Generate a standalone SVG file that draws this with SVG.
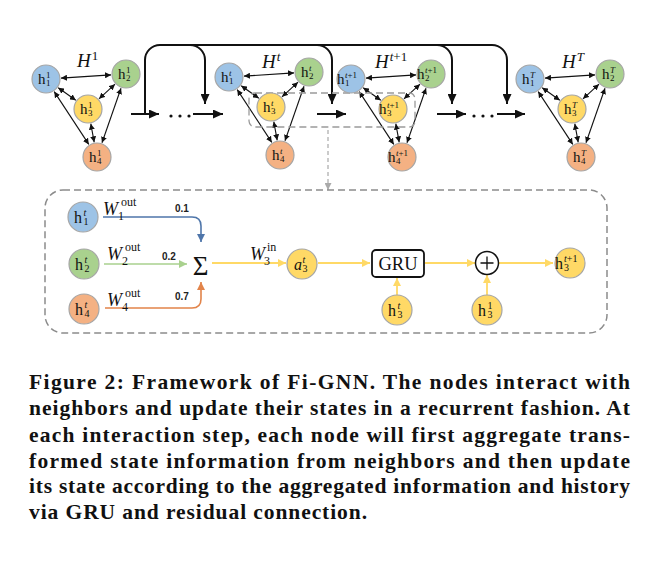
<svg xmlns="http://www.w3.org/2000/svg" width="672" height="572" viewBox="0 0 672 572">
<defs>
<style>
.nb{fill:#9DC3E6;stroke:#A6A6A6;stroke-width:1.2}
.ng{fill:#A9D18E;stroke:#A6A6A6;stroke-width:1.2}
.ny{fill:#FFD966;stroke:#A6A6A6;stroke-width:1.2}
.no{fill:#F4B183;stroke:#A6A6A6;stroke-width:1.2}
.h{font-family:"Liberation Serif","DejaVu Serif",serif;font-size:15px;fill:#111}
.s{font-size:9px}
.hb{font-family:"Liberation Serif","DejaVu Serif",serif;font-size:16px;fill:#111}
.sb{font-size:10px}
.it{font-style:italic}
.e{stroke:#111;stroke-width:1.1;fill:none;marker-start:url(#sa);marker-end:url(#sa)}
.big{stroke:#111;stroke-width:2;fill:none}
.H{font-family:"Liberation Serif","DejaVu Serif",serif;font-size:19px;font-style:italic;fill:#111}
.Hs{font-size:13px}
.w{font-family:"Liberation Serif","DejaVu Serif",serif;font-size:18px;font-style:italic;fill:#111}
.ws{font-size:12px;font-style:normal}
.num{font-family:"Liberation Sans",Arial,sans-serif;font-size:10px;font-weight:bold;fill:#222}
.cap{font-family:"Liberation Serif","Times New Roman",serif;font-size:21.5px;font-weight:bold;fill:#111}
.yl{stroke:#FFD966;stroke-width:1.8;fill:none;marker-end:url(#ya)}
</style>
<marker id="sa" markerUnits="userSpaceOnUse" markerWidth="6" markerHeight="6" refX="6" refY="3" orient="auto-start-reverse"><path d="M0,0 L6,3 L0,6 z" fill="#111"/></marker>
<marker id="ba" markerUnits="userSpaceOnUse" markerWidth="10" markerHeight="9" refX="10" refY="4.5" orient="auto"><path d="M0,0 L10,4.5 L0,9 z" fill="#111"/></marker>
<marker id="bla" markerUnits="userSpaceOnUse" markerWidth="8" markerHeight="8" refX="8" refY="4" orient="auto"><path d="M0,0 L8,4 L0,8 z" fill="#4F76AA"/></marker>
<marker id="ga" markerUnits="userSpaceOnUse" markerWidth="8" markerHeight="8" refX="8" refY="4" orient="auto"><path d="M0,0 L8,4 L0,8 z" fill="#A9D18E"/></marker>
<marker id="oa" markerUnits="userSpaceOnUse" markerWidth="8" markerHeight="8" refX="8" refY="4" orient="auto"><path d="M0,0 L8,4 L0,8 z" fill="#E2844A"/></marker>
<marker id="ya" markerUnits="userSpaceOnUse" markerWidth="8" markerHeight="8" refX="8" refY="4" orient="auto"><path d="M0,0 L8,4 L0,8 z" fill="#FFD966"/></marker>
<marker id="gya" markerUnits="userSpaceOnUse" markerWidth="7" markerHeight="7" refX="7" refY="3.5" orient="auto"><path d="M0,0 L7,3.5 L0,7 z" fill="#AAAAAA"/></marker>
</defs>
<rect width="672" height="572" fill="#fff"/>

<g id="connectors">
  <path class="big" d="M145,114 V60 A15,15 0 0 1 160,45 H492 A15,15 0 0 1 507,60 V104" marker-end="url(#ba)"/>
  <path class="big" d="M190,45 A15,15 0 0 1 205,60 V104" marker-end="url(#ba)"/>
  <path class="big" d="M317,45 A15,15 0 0 1 332,60 V104" marker-end="url(#ba)"/>
  <path class="big" d="M437,45 A15,15 0 0 1 452,60 V104" marker-end="url(#ba)"/>
  <path class="big" d="M131,114 H159" marker-end="url(#ba)"/>
  <path class="big" d="M193,114 H223" marker-end="url(#ba)"/>
  <path class="big" d="M317,114 H346" marker-end="url(#ba)"/>
  <path class="big" d="M437,114 H466" marker-end="url(#ba)"/>
  <path class="big" d="M497,114 H525" marker-end="url(#ba)"/>
  <g fill="#111">
    <circle cx="171" cy="116" r="1.6"/><circle cx="180" cy="116" r="1.6"/><circle cx="189" cy="116" r="1.6"/>
    <circle cx="474" cy="116" r="1.6"/><circle cx="483" cy="116" r="1.6"/><circle cx="492" cy="116" r="1.6"/>
  </g>
  <g transform="translate(46,79)">
    <path class="e" d="M15,-0.9 L65,-4.1"/><path class="e" d="M12.2,8.7 L29.8,21.3"/><path class="e" d="M69,5.2 L53,19.8"/>
    <path class="e" d="M8.2,12.6 L42.8,65.4"/><path class="e" d="M75,9.2 L56,63.8"/><path class="e" d="M44.8,44.7 L48.2,63.3"/>
  </g>
  <g transform="translate(229,77)">
    <path class="e" d="M15,-0.9 L65,-4.1"/><path class="e" d="M12.2,8.7 L29.8,21.3"/><path class="e" d="M69,5.2 L53,19.8"/>
    <path class="e" d="M8.2,12.6 L42.8,65.4"/><path class="e" d="M75,9.2 L56,63.8"/><path class="e" d="M44.8,44.7 L48.2,63.3"/>
  </g>
  <g transform="translate(351,79)">
    <path class="e" d="M15,-0.9 L65,-4.1"/><path class="e" d="M12.2,8.7 L29.8,21.3"/><path class="e" d="M69,5.2 L53,19.8"/>
    <path class="e" d="M8.2,12.6 L42.8,65.4"/><path class="e" d="M75,9.2 L56,63.8"/><path class="e" d="M44.8,44.7 L48.2,63.3"/>
  </g>
  <g transform="translate(530,79)">
    <path class="e" d="M15,-0.9 L65,-4.1"/><path class="e" d="M12.2,8.7 L29.8,21.3"/><path class="e" d="M69,5.2 L53,19.8"/>
    <path class="e" d="M8.2,12.6 L42.8,65.4"/><path class="e" d="M75,9.2 L56,63.8"/><path class="e" d="M44.8,44.7 L48.2,63.3"/>
  </g>
  <rect x="249" y="93" width="166" height="34" rx="6" fill="none" stroke="#9A9A9A" stroke-width="1.3" stroke-dasharray="7 4"/>
  <path d="M328,130 V190" stroke="#B0B0B0" stroke-width="1.3" stroke-dasharray="4 3" fill="none" marker-end="url(#gya)"/>
  <rect x="45" y="190" width="562" height="143" rx="18" fill="none" stroke="#8C8C8C" stroke-width="1.5" stroke-dasharray="7 4"/>
  <path d="M103,217 H192 Q201,217 201,226 V242" stroke="#4F76AA" stroke-width="1.6" fill="none" marker-end="url(#bla)"/>
  <path d="M104,264 H187" stroke="#A9D18E" stroke-width="1.6" fill="none" marker-end="url(#ga)"/>
  <path d="M105,308 H192 Q201,308 201,299 V282" stroke="#E2844A" stroke-width="1.6" fill="none" marker-end="url(#oa)"/>
  <path class="yl" d="M212,263 H286"/>
  <path class="yl" d="M318,263 H370"/>
  <path class="yl" d="M425,263 H475"/>
  <path class="yl" d="M499,263 H553"/>
  <path class="yl" d="M397,295 V278"/>
  <path class="yl" d="M487,295 V275"/>
</g>

<g id="labels-H">
  <text class="H" x="77" y="67">H<tspan class="Hs" dx="1" dy="-7" font-style="normal">1</tspan></text>
  <text class="H" x="262" y="68">H<tspan class="Hs" dx="1" dy="-7">t</tspan></text>
  <text class="H" x="375" y="68">H<tspan class="Hs" dx="1" dy="-7">t</tspan><tspan class="Hs" font-style="normal">+1</tspan></text>
  <text class="H" x="562" y="68">H<tspan class="Hs" dx="1" dy="-7">T</tspan></text>
</g>

<g id="graph-1" transform="translate(46,79)">
  <g id="g1-h1"><circle class="nb" cx="0" cy="0" r="14"/><text class="h" x="-8" y="5">h<tspan class="s" x="0" y="-1">1</tspan><tspan class="s" x="0" y="7">1</tspan></text></g>
  <g id="g1-h2"><circle class="ng" cx="80" cy="-5" r="14"/><text class="h" x="72" y="0">h<tspan class="s" x="80" y="-6">1</tspan><tspan class="s" x="80" y="2">2</tspan></text></g>
  <g id="g1-h3"><circle class="ny" cx="42" cy="30" r="14"/><text class="h" x="34" y="35">h<tspan class="s" x="42" y="29">1</tspan><tspan class="s" x="42" y="37">3</tspan></text></g>
  <g id="g1-h4"><circle class="no" cx="51" cy="78" r="14"/><text class="h" x="43" y="83">h<tspan class="s" x="51" y="77">1</tspan><tspan class="s" x="51" y="85">4</tspan></text></g>
</g>

<g id="graph-t" transform="translate(229,77)">
  <g id="gt-h1"><circle class="nb" cx="0" cy="0" r="14"/><text class="h" x="-8" y="5">h<tspan class="s it" x="0" y="-1">t</tspan><tspan class="s" x="0" y="7">1</tspan></text></g>
  <g id="gt-h2"><circle class="ng" cx="80" cy="-5" r="14"/><text class="h" x="72" y="0">h<tspan class="s it" x="80" y="-6">t</tspan><tspan class="s" x="80" y="2">2</tspan></text></g>
  <g id="gt-h3"><circle class="ny" cx="42" cy="30" r="14"/><text class="h" x="34" y="35">h<tspan class="s it" x="42" y="29">t</tspan><tspan class="s" x="42" y="37">3</tspan></text></g>
  <g id="gt-h4"><circle class="no" cx="51" cy="78" r="14"/><text class="h" x="43" y="83">h<tspan class="s it" x="51" y="77">t</tspan><tspan class="s" x="51" y="85">4</tspan></text></g>
</g>

<g id="graph-t1" transform="translate(351,79)">
  <g id="gt1-h1"><circle class="nb" cx="0" cy="0" r="14"/><text class="h" x="-14" y="5">h<tspan class="s" x="-6" y="-1"><tspan class="it">t</tspan>+1</tspan><tspan class="s" x="-6" y="7">1</tspan></text></g>
  <g id="gt1-h2"><circle class="ng" cx="80" cy="-5" r="14"/><text class="h" x="66" y="0">h<tspan class="s" x="74" y="-6"><tspan class="it">t</tspan>+1</tspan><tspan class="s" x="74" y="2">2</tspan></text></g>
  <g id="gt1-h3"><circle class="ny" cx="42" cy="30" r="14"/><text class="h" x="28" y="35">h<tspan class="s" x="36" y="29"><tspan class="it">t</tspan>+1</tspan><tspan class="s" x="36" y="37">3</tspan></text></g>
  <g id="gt1-h4"><circle class="no" cx="51" cy="78" r="14"/><text class="h" x="37" y="83">h<tspan class="s" x="45" y="77"><tspan class="it">t</tspan>+1</tspan><tspan class="s" x="45" y="85">4</tspan></text></g>
</g>

<g id="graph-T" transform="translate(530,79)">
  <g id="gT-h1"><circle class="nb" cx="0" cy="0" r="14"/><text class="h" x="-8" y="5">h<tspan class="s it" x="0" y="-1">T</tspan><tspan class="s" x="0" y="7">1</tspan></text></g>
  <g id="gT-h2"><circle class="ng" cx="80" cy="-5" r="14"/><text class="h" x="72" y="0">h<tspan class="s it" x="80" y="-6">T</tspan><tspan class="s" x="80" y="2">2</tspan></text></g>
  <g id="gT-h3"><circle class="ny" cx="42" cy="30" r="14"/><text class="h" x="34" y="35">h<tspan class="s it" x="42" y="29">T</tspan><tspan class="s" x="42" y="37">3</tspan></text></g>
  <g id="gT-h4"><circle class="no" cx="51" cy="78" r="14"/><text class="h" x="43" y="83">h<tspan class="s it" x="51" y="77">T</tspan><tspan class="s" x="51" y="85">4</tspan></text></g>
</g>

<g id="detail">
  <g id="d-h1"><circle class="nb" cx="83" cy="217" r="15"/><text class="hb" x="74" y="222.5">h<tspan class="sb it" x="83.5" y="216">t</tspan><tspan class="sb" x="83.5" y="225">1</tspan></text></g>
  <g id="d-h2"><circle class="ng" cx="84" cy="264" r="15"/><text class="hb" x="75" y="269.5">h<tspan class="sb it" x="84.5" y="263">t</tspan><tspan class="sb" x="84.5" y="272">2</tspan></text></g>
  <g id="d-h4"><circle class="no" cx="84" cy="309" r="15"/><text class="hb" x="75" y="314.5">h<tspan class="sb it" x="84.5" y="308">t</tspan><tspan class="sb" x="84.5" y="317">4</tspan></text></g>
  <text class="w" x="103" y="215">W<tspan class="ws" x="121" y="206">out</tspan><tspan class="ws" x="118" y="220">1</tspan></text>
  <text class="w" x="107" y="260">W<tspan class="ws" x="125" y="251">out</tspan><tspan class="ws" x="122" y="265">2</tspan></text>
  <text class="w" x="107" y="306">W<tspan class="ws" x="125" y="297">out</tspan><tspan class="ws" x="122" y="311">4</tspan></text>
  <text class="num" x="175" y="212">0.1</text>
  <text class="num" x="162" y="260">0.2</text>
  <text class="num" x="175" y="300">0.7</text>
  <g id="d-sum"><text x="200.5" y="275" text-anchor="middle" font-family="'Liberation Serif','DejaVu Serif',serif" font-size="27" fill="#111">Σ</text></g>
  <text class="w" x="250" y="260">W<tspan class="ws" x="267" y="251">in</tspan><tspan class="ws" x="264" y="265">3</tspan></text>
  <g id="d-a3"><circle class="ny" cx="302" cy="264" r="15"/><text class="hb" x="294" y="269.5"><tspan class="it">a</tspan><tspan class="sb it" x="302.5" y="263">t</tspan><tspan class="sb" x="302.5" y="272">3</tspan></text></g>
  <g id="d-gru"><rect x="372" y="250" width="52" height="27" rx="4" fill="#fff" stroke="#111" stroke-width="1.8"/><text x="398" y="270" text-anchor="middle" font-family="'Liberation Serif','DejaVu Serif',serif" font-size="18.5" fill="#111">GRU</text></g>
  <g id="d-plus"><circle cx="487" cy="263" r="11.5" fill="#fff" stroke="#111" stroke-width="1.5"/><path d="M480.5,263 H493.5 M487,256.5 V269.5" stroke="#111" stroke-width="1.3"/></g>
  <g id="d-h3t1"><circle class="ny" cx="570" cy="263" r="15"/><text class="hb" x="555" y="268.5">h<tspan class="sb" x="564" y="262"><tspan class="it">t</tspan>+1</tspan><tspan class="sb" x="564" y="271">3</tspan></text></g>
  <g id="d-h3t"><circle class="ny" cx="397" cy="310" r="15"/><text class="hb" x="388" y="315.5">h<tspan class="sb it" x="397.5" y="309">t</tspan><tspan class="sb" x="397.5" y="318">3</tspan></text></g>
  <g id="d-h31"><circle class="ny" cx="487" cy="310" r="15"/><text class="hb" x="478" y="315.5">h<tspan class="sb" x="487.5" y="309">1</tspan><tspan class="sb" x="487.5" y="318">3</tspan></text></g>
</g>

<g id="caption">
  <text class="cap" x="29" y="389" textLength="601" lengthAdjust="spacing">Figure 2: Framework of Fi-GNN. The nodes interact with</text>
  <text class="cap" x="29" y="415" textLength="601" lengthAdjust="spacing">neighbors and update their states in a recurrent fashion. At</text>
  <text class="cap" x="29" y="442" textLength="601" lengthAdjust="spacing">each interaction step, each node will first aggregate trans-</text>
  <text class="cap" x="29" y="468" textLength="601" lengthAdjust="spacing">formed state information from neighbors and then update</text>
  <text class="cap" x="29" y="493" textLength="601" lengthAdjust="spacing">its state according to the aggregated information and history</text>
  <text class="cap" x="29" y="519" textLength="338" lengthAdjust="spacing">via GRU and residual connection.</text>
</g>
</svg>
